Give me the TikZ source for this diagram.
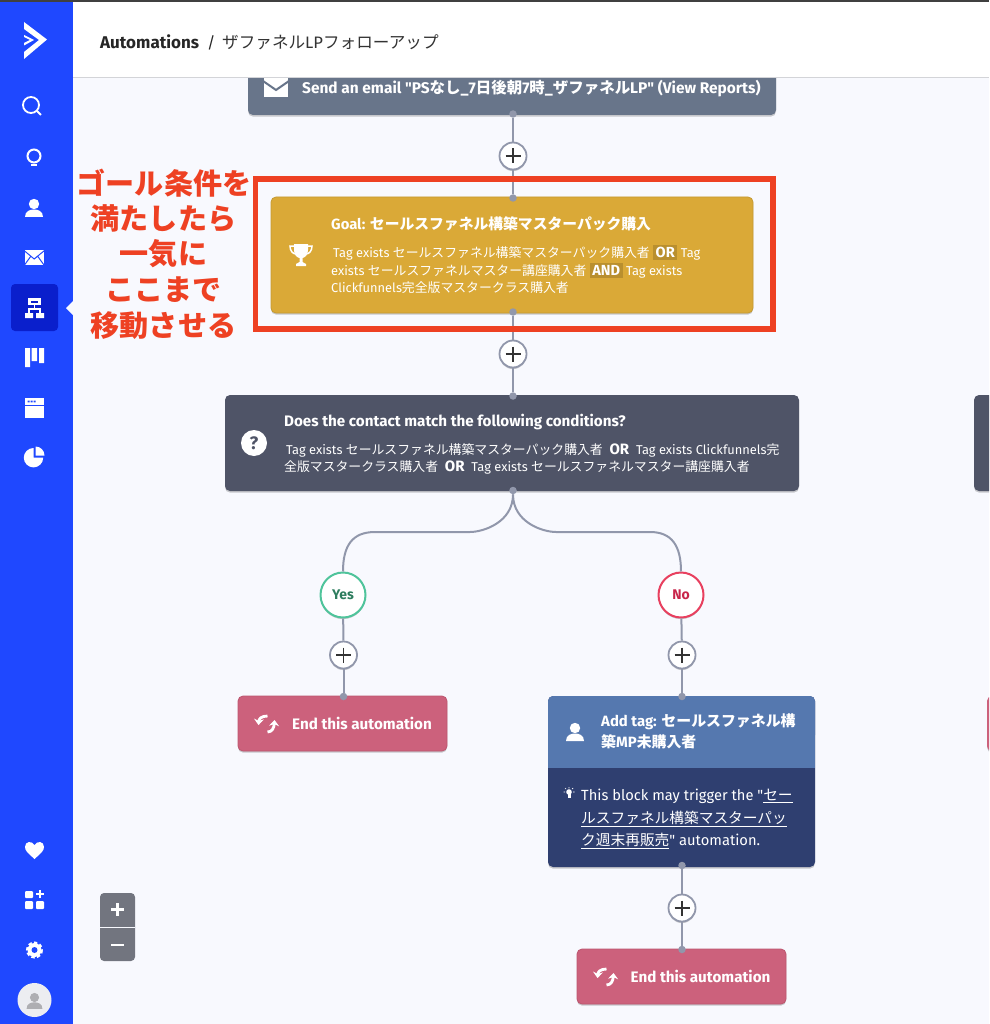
\documentclass[tikz,border=0pt]{standalone}
\usepackage{fontspec}
\setmainfont{Fira Sans}
\newfontfamily\cjk{Noto Sans CJK JP}
\newfontfamily\fira{Fira Sans}
\usetikzlibrary{shadows,arrows.meta}
\definecolor{bgc}{HTML}{F8F9FE}
\definecolor{sidec}{HTML}{1F48FF}
\definecolor{activec}{HTML}{0A1FCC}
\definecolor{linec}{HTML}{9197AB}
\definecolor{emailc}{HTML}{68758A}
\definecolor{goalc}{HTML}{DAA937}
\definecolor{goalb}{HTML}{C49A33}
\definecolor{chipc}{HTML}{B98F2E}
\definecolor{condc}{HTML}{4F5467}
\definecolor{endc}{HTML}{CC617C}
\definecolor{endb}{HTML}{BC566F}
\definecolor{tagh}{HTML}{5578AF}
\definecolor{tagb}{HTML}{2F3F70}
\definecolor{redc}{HTML}{EE4123}
\definecolor{yesc}{HTML}{4FC49B}
\definecolor{yest}{HTML}{2D7D5E}
\definecolor{noc}{HTML}{E8405F}
\definecolor{notx}{HTML}{C8254A}
\definecolor{zoomc}{HTML}{72757F}
\newcommand\J[1]{{\cjk #1}}
\newcommand\qt{{\fira\char34 }}
\newcommand\fs[2]{\fontsize{#1}{#2}\selectfont}
\newcommand\chip[1]{\smash{\setlength\fboxsep{2.5pt}\colorbox{chipc}{\fs{14.6}{17.6}\textbf{#1}}}}
\tikzset{
 x=1pt,y=-1pt,
 softshadow/.style={drop shadow={shadow xshift=0pt,shadow yshift=-1.6pt,opacity=.2,fill=black}},
 box/.style={rectangle,rounded corners=5pt,inner sep=0pt,softshadow},
 plusbtn/.style={circle,draw=linec,line width=1.8pt,fill=white,minimum size=27pt,inner sep=0pt,softshadow},
 branch/.style={circle,line width=2pt,fill=white,minimum size=45pt,inner sep=0pt,softshadow,font=\fs{14}{16}\bfseries},
 dotn/.style={circle,fill=linec,minimum size=7.5pt,inner sep=0pt},
 conn/.style={draw=linec,line width=2pt},
 lbl/.style={inner sep=0pt,text=white,anchor=base west},
 para/.style={inner sep=0pt,text=white,anchor=north west,align=left},
 redtxt/.style={inner sep=0pt,text=redc,anchor=center,font=\fs{29.1}{30}\bfseries\cjk},
 personpic/.pic={
  \fill (0,-4) circle (5.2);
  \fill (-9,9) .. controls (-9,3) and (-4,1.5) .. (0,1.5) .. controls (4,1.5) and (9,3) .. (9,9) -- cycle;
 },
 refreshpic/.pic={
  \draw[white,line width=2.8pt,-{Stealth[length=6pt,width=10pt]}] (1.5,-8) .. controls (-5,-8) and (-7,-5) .. (-7.5,1);
  \draw[white,line width=2.8pt,-{Stealth[length=6pt,width=10pt]}] (1.5,8) .. controls (6,8) and (8,4) .. (8.5,-4);
 },
}
\begin{document}
\begin{tikzpicture}
\path[use as bounding box] (0,0) rectangle (989,1024);
\clip (0,0) rectangle (989,1024);
\fill[bgc] (0,0) rectangle (989,1024);

% --- boxes
\node[box,fill=emailc,minimum width=528pt,minimum height=60pt] (email) at (512,85) {};
\fill[white] (264,78) rectangle (288,97);
\draw[emailc,line width=2pt] (263,81) -- (276,90) -- (289,81);
\node[lbl,font=\fs{15.45}{17}\bfseries] (emailt) at (302,94) {Send an email \qt PS\J{なし}\_7\J{日後朝}7\J{時}\_\J{ザファネル}LP\qt\ (View Reports)};

% header
\fill[white] (73,0) rectangle (989,77);
\fill[black!15!bgc] (73,77) rectangle (989,78.5);
\fill[black!75] (0,0) rectangle (989,1.8);
\node[lbl,text=black!85,font=\fs{17}{18}\bfseries] (crumb) at (100,48.5) {Automations};
\node[lbl,text=black!85,font=\fs{16}{18}] (slash) at (207,48.5) {/};
\node[lbl,text=black!80,font=\fs{16.6}{18}] (crumbj) at (222,49) {\J{ザファネル}LP\J{フォローアップ}};

% plus buttons come after connectors; boxes first
\node[box,fill=goalc,draw=goalb,line width=.8pt,minimum width=482pt,minimum height=116pt] (goal) at (512,255) {};
\node[box,fill=condc,minimum width=574pt,minimum height=96pt] (cond) at (512,443) {};
\node[box,fill=condc,minimum width=60pt,minimum height=96pt] (condr) at (1004,443) {};
\node[box,fill=endc,minimum width=60pt,minimum height=55pt] (endr) at (1017,723.5) {};
\node[box,fill=endc,draw=endb,line width=.8pt,minimum width=209pt,minimum height=55pt] (end1) at (342.5,723.5) {};
\node[box,fill=endc,draw=endb,line width=.8pt,minimum width=209pt,minimum height=55pt] (end2) at (681.5,976.5) {};
\node[box,fill=tagb,minimum width=267pt,minimum height=171pt] (tag) at (681.5,781.5) {};
\fill[tagh,rounded corners=5pt] (548,696) rectangle (815,740);
\fill[tagh] (548,725) rectangle (815,768);

% --- plus buttons and branches
\node[plusbtn] (p1) at (513,156) {};
\node[plusbtn] (p2) at (513,354) {};
\node[plusbtn] (p3) at (343.5,655) {};
\node[plusbtn] (p4) at (682,655) {};
\node[plusbtn] (p5) at (682,908) {};
\node[branch,draw=yesc,text=yest] (yes) at (343,595) {Yes};
\node[branch,draw=noc,text=notx] (no) at (681,595) {No};
\foreach \p in {p1,p2,p3,p4,p5}{
  \draw[black!80,line width=1.6pt] (\p)+(-7.5,0) -- +(7.5,0) (\p)+(0,-7.5) -- +(0,7.5);
}

% --- connection dots
\node[dotn] (d1) at (513,114) {};
\node[dotn] (d2) at (513,198) {};
\node[dotn] (d3) at (513,312) {};
\node[dotn] (d4) at (513,396) {};
\node[dotn] (d5) at (513,490.5) {};
\node[dotn] (d6) at (343.5,696.5) {};
\node[dotn] (d7) at (682,696.5) {};
\node[dotn] (d8) at (682,865.5) {};
\node[dotn] (d9) at (682,949.5) {};

% --- connectors
\draw[conn] (d1) -- (p1);
\draw[conn] (p1) -- (d2);
\draw[conn] (d3) -- (p2);
\draw[conn] (p2) -- (d4);
\draw[conn] (d5.south) .. controls +(0,28) and +(13,0) .. (470,532) -- (375,532) .. controls (352,532) and (343,546) .. (yes.north);
\draw[conn] (d5.south) .. controls +(0,28) and +(-13,0) .. (556,532) -- (650,532) .. controls (672,532) and (681,546) .. (no.north);
\draw[conn] (yes) -- (p3);
\draw[conn] (no) -- (p4);
\draw[conn] (p3) -- (d6);
\draw[conn] (p4) -- (d7);
\draw[conn] (d8) -- (p5);
\draw[conn] (p5) -- (d9);

% --- goal contents
\begin{scope}[shift={(301,255)}]
 \fill[white] (-7,-11) -- (7,-11) -- (7,-5) .. controls (7,0) and (4,2.5) .. (1.5,3) -- (1.5,7) -- (5,9) -- (5,11) -- (-5,11) -- (-5,9) -- (-1.5,7) -- (-1.5,3) .. controls (-4,2.5) and (-7,0) .. (-7,-5) -- cycle;
 \draw[white,line width=1.5pt] (-7,-9) -- (-11,-9) .. controls (-11,-4) and (-8,-1) .. (-5,-1);
 \draw[white,line width=1.5pt] (7,-9) -- (11,-9) .. controls (11,-4) and (8,-1) .. (5,-1);
\end{scope}
\node[lbl,font=\fs{14.8}{17}\bfseries] (goalt) at (331,229.5) {Goal: \J{セールスファネル構築マスターパック購入}};
\node[para,font=\fs{12.85}{17.6}] (goalb1) at (331,246.5) {\hspace{2pt}Tag exists \J{セールスファネル構築マスターパック購入者} \chip{OR} Tag\\exists \J{セールスファネルマスター講座購入者} \chip{AND} Tag exists\\Clickfunnels\J{完全版マスタークラス購入者}};

% --- condition contents
\fill[white] (254,443) circle (13);
\node[inner sep=0pt,text=condc,font=\fs{18}{20}\bfseries] (qm) at (254,443) {?};
\node[lbl,font=\fs{15.2}{17}\bfseries] (condt) at (284,426.5) {Does the contact match the following conditions?};
\node[para,font=\fs{12.85}{17.6}] (condb) at (284,443) {\hspace{2pt}Tag exists \J{セールスファネル構築マスターパック購入者}\ \ \textbf{\fs{15}{17.6}OR}\ \ Tag exists Clickfunnels\J{完}\\\J{全版マスタークラス購入者}\ \ \textbf{\fs{15}{17.6}OR}\ \ Tag exists \J{セールスファネルマスター講座購入者}};

% --- end nodes
\pic[white] at (266,724) {refreshpic};
\node[lbl,font=\fs{15.2}{17}\bfseries] (end1t) at (292,729.5) {End this automation};
\pic[white] at (605,977) {refreshpic};
\node[lbl,font=\fs{15.2}{17}\bfseries] (end2t) at (630.5,982.5) {End this automation};

% --- tag contents
\pic[white] at (575,732) {personpic};
\node[para,font=\fs{14.9}{21}\bfseries] (tagt) at (601,714) {Add tag: \J{セールスファネル構}\\\J{築}MP\J{未購入者}};
\begin{scope}[shift={(569,793)}]
 \fill[white] (0,-1) circle (2.8);
 \fill[white] (-1.5,1) rectangle (1.5,4.5);
 \draw[white,line width=.7pt] (-5.5,-1) -- (-4,-1) (5.5,-1) -- (4,-1) (0,-6) -- (0,-4.7) (-4,-5) -- (-3,-4) (4,-5) -- (3,-4);
\end{scope}
\node[para,font=\fs{14.7}{22.6}] (tagb1) at (581,789) {This block may trigger the \qt\underline{\J{セー}}\\\underline{\J{ルスファネル構築マスターパッ}}\\\underline{\J{ク週末再販売}}\qt\ automation.};

% --- sidebar
\fill[sidec] (0,1.8) rectangle (73,1024);
\fill[activec,rounded corners=4pt] (11,284) rectangle (58,331);
\fill[bgc] (66,308) -- (73,301) -- (73,315) -- cycle;
% logo
\fill[white] (24,22) -- (47,39.5) -- (24,59) -- (24,52) -- (39,40) -- (24,29) -- cycle;
\fill[white] (24,35) -- (34,40) -- (24,45.5) -- (24,43) -- (30,40) -- (24,37) -- cycle;
% search
\draw[white,line width=1.8pt] (31,105) circle (8);
\draw[white,line width=2pt] (37,111) -- (41,115);
% bulb
\draw[white,line width=2pt] (34,156) circle (6.5);
\draw[white,line width=2pt] (31,165) -- (37,165);
% person
\pic[white] at (34,208) {personpic};
% mail
\fill[white] (24.5,250) rectangle (44,265);
\draw[sidec,line width=1pt] (24,250.5) -- (34.2,259) -- (44.5,250.5) (24.5,265) -- (31,256) (44,265) -- (37.5,256);
% org
\fill[white] (28,298) rectangle (41,305);
\fill[activec] (31,300.5) rectangle (38,302.5);
\draw[white,line width=1.5pt] (34.5,305) -- (34.5,309) (29,314) -- (29,309) -- (40,309) -- (40,314);
\fill[white] (25,313) rectangle (33,318) (36,313) rectangle (44,318);
% board
\fill[white] (25,348) rectangle (30,367) (31.7,348) rectangle (37,361) (39,348) rectangle (44,363);
% window
\fill[white] (25,398) rectangle (44,418);
\fill[sidec] (25,405) rectangle (44,406);
\fill[sidec] (27.5,400.7) rectangle (29.5,402.3) (30.5,400.7) rectangle (32.5,402.3) (33.5,400.7) rectangle (35.5,402.3);
% pie
\fill[white] (33.5,448) arc (270:0:9.7) -- (33.5,457.7) -- cycle;
\fill[white] (35.5,447) -- (35.5,455.5) -- (44.5,455.5) arc (0:-90:9) -- cycle;
% heart
\fill[white] (34.5,859) .. controls (28,853) and (25,851) .. (25,847) .. controls (25,841) and (32,840.5) .. (34.5,845) .. controls (37,840.5) and (44,841) .. (44,847) .. controls (44,851) and (41,853) .. (34.5,859) -- cycle;
% apps
\fill[white,rounded corners=1pt] (25,891) rectangle (33,898) (25,901) rectangle (33,909) (36,901) rectangle (44,909);
\draw[white,line width=1.5pt] (40,890) -- (40,898) (36,894) -- (44,894);
% gear
\draw[white,line width=3pt,dash pattern=on 3pt off 2.4pt] (34.5,950) circle (7);
\fill[white] (34.5,950) circle (7);
\fill[sidec] (34.5,950) circle (3);
% avatar
\fill[black!5!bgc] (34.5,1000) ellipse (17 and 17);
\pic[black!30!bgc,scale=.88] at (34.5,1001) {personpic};

% zoom control
\fill[zoomc,rounded corners=4pt] (100,893) rectangle (135,961);
\fill[bgc] (100,926.5) rectangle (135,928);
\draw[white,line width=2.4pt] (111,909.5) -- (124,909.5) (117.5,903) -- (117.5,916);
\draw[white,line width=2.4pt] (111,945) -- (124,945);

% --- red note
\draw[redc,line width=5.6pt] (255.5,179) rectangle (773,329);
\node[redtxt] (r1) at (164,183) {ゴール条件を};
\node[redtxt] (r2) at (163.5,218.5) {満たしたら};
\node[redtxt] (r3) at (163.5,254) {一気に};
\node[redtxt] (r4) at (163.5,290) {ここまで};
\node[redtxt] (r5) at (163.5,325.5) {移動させる};
\end{tikzpicture}
\end{document}
